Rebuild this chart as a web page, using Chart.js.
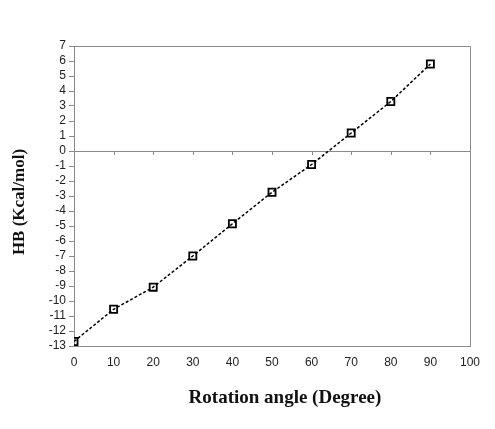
<!DOCTYPE html>
<html>
<head>
<meta charset="utf-8">
<script src="https://cdn.jsdelivr.net/npm/chart.js@4/dist/chart.umd.min.js"></script>
<style>
  body { margin: 0; background: #fff; }
  canvas { display: block; }
</style>
</head>
<body>
<canvas id="myChart" width="495" height="429"></canvas>
<script>
// rotation angle (degree) vs HB (kcal/mol)
const angles = [0, 10, 20, 30, 40, 50, 60, 70, 80, 90];
const hbValues = [-12.7, -10.55, -9.08, -7.0, -4.85, -2.75, -0.9, 1.2, 3.3, 5.8];
const xTitle = 'Rotation angle (Degree)';
const yTitle = 'HB (Kcal/mol)';

const axisGray = '#8a8a8a';

// frame on top/right, small ticks on the zero line, axis titles
const decorations = {
  id: 'decorations',
  beforeDatasetsDraw(chart) {
    const { ctx, chartArea: a, scales } = chart;
    ctx.save();
    ctx.strokeStyle = axisGray;
    ctx.lineWidth = 1;
    ctx.beginPath();
    ctx.moveTo(a.left, a.top + 0.5);
    ctx.lineTo(a.right + 0.5, a.top + 0.5);
    ctx.lineTo(a.right + 0.5, a.bottom);
    ctx.stroke();
    const y0 = scales.y.getPixelForValue(0);
    ctx.beginPath();
    for (const v of angles.slice(1)) {
      const x = Math.round(scales.x.getPixelForValue(v)) + 0.5;
      ctx.moveTo(x, y0);
      ctx.lineTo(x, y0 + 4);
    }
    ctx.stroke();
    ctx.restore();
  },
  afterDraw(chart) {
    const { ctx } = chart;
    ctx.save();
    ctx.fillStyle = '#111';
    ctx.textAlign = 'center';
    ctx.textBaseline = 'middle';
    ctx.font = 'bold 19px "Liberation Serif", "Times New Roman", serif';
    ctx.fillText(xTitle, 285, 398);
    ctx.font = 'bold 17px "Liberation Serif", "Times New Roman", serif';
    ctx.translate(20, 202);
    ctx.rotate(-Math.PI / 2);
    ctx.fillText(yTitle, 0, 0);
    ctx.restore();
  }
};

const tickFont = { family: '"Liberation Sans", Arial, sans-serif', size: 12 };

new Chart(document.getElementById('myChart').getContext('2d'), {
  type: 'scatter',
  data: {
    datasets: [{
      label: 'HB',
      data: angles.map((a, i) => ({ x: a, y: hbValues[i] })),
      showLine: true,
      borderColor: '#000',
      borderWidth: 1.5,
      borderDash: [3, 2],
      pointStyle: 'rect',
      pointRadius: 5,
      pointHoverRadius: 5,
      pointBackgroundColor: 'rgba(255,255,255,0)',
      pointBorderColor: '#000',
      pointBorderWidth: 1.8
    }]
  },
  options: {
    responsive: false,
    animation: false,
    layout: { padding: { top: 46, right: 25, left: 0, bottom: 0 } },
    plugins: { legend: { display: false }, tooltip: { enabled: false } },
    scales: {
      x: {
        type: 'linear',
        min: 0, max: 100,
        afterFit: s => { s.height = 83; },
        ticks: { stepSize: 10, autoSkip: false, maxRotation: 0, font: tickFont, color: '#222', padding: 9 },
        grid: { drawOnChartArea: false, drawTicks: false },
        border: { display: true, color: axisGray, width: 1 }
      },
      y: {
        min: -13, max: 7,
        afterFit: s => { s.width = 74; },
        ticks: { stepSize: 1, autoSkip: false, font: tickFont, color: '#222', padding: 3 },
        grid: {
          drawOnChartArea: true,
          color: c => (c.tick && c.tick.value === 0) ? axisGray : 'rgba(0,0,0,0)',
          tickColor: axisGray,
          tickLength: 5,
          lineWidth: 1
        },
        border: { display: true, color: axisGray, width: 1 }
      }
    }
  },
  plugins: [decorations]
});
</script>
</body>
</html>
